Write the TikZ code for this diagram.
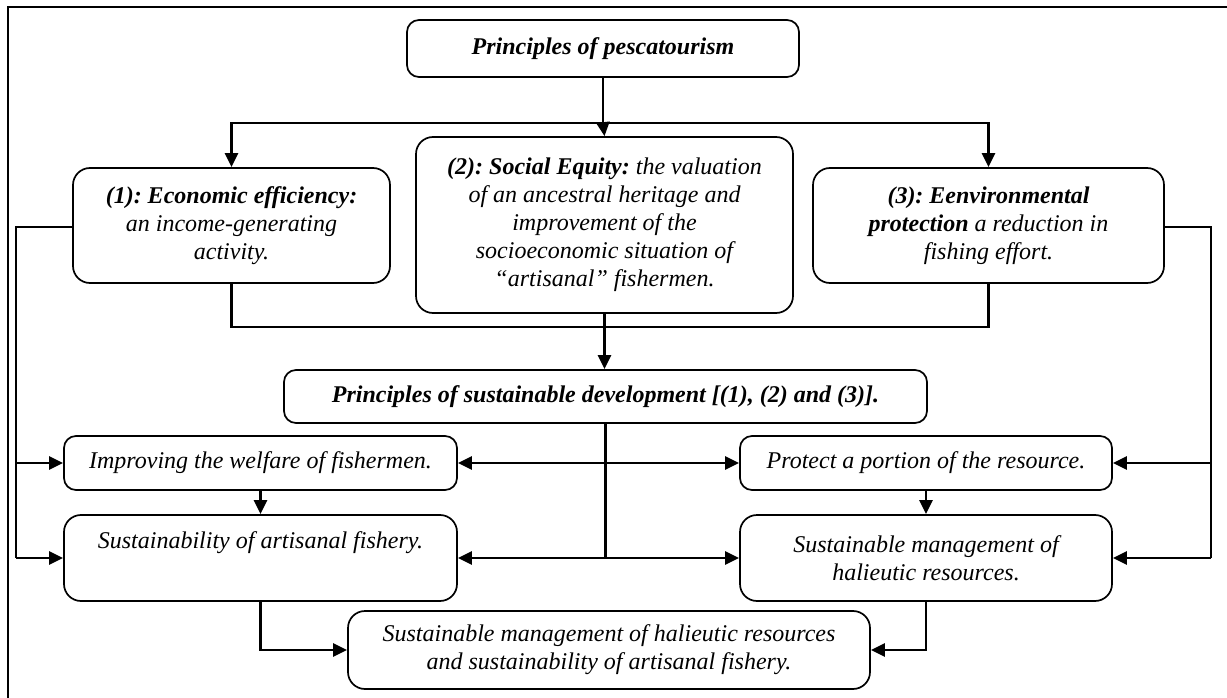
\documentclass[tikz,border=0pt]{standalone}
\usepackage{fontspec}
\setmainfont{Liberation Serif}
\usetikzlibrary{arrows.meta}
\frenchspacing

\tikzset{
  box/.style={draw, line width=1.7pt, rounded corners=12pt, align=center, inner sep=0pt,
    font=\fontsize{24}{28}\selectfont\itshape},
  bigbox/.style={box, rounded corners=17pt},
  link/.style={line width=2.6pt},
  conn/.style={link, -{Triangle[length=14pt,width=13pt]}}
}

\begin{document}
\begin{tikzpicture}[x=1pt,y=-1pt]
            \useasboundingbox (0,0) rectangle (1227,698);
            \draw[line width=1.3pt] (8,7) rectangle (1240,720);

            \node[box, minimum width=392pt, minimum height=57pt] (pesca) at (603,48.5) {\textbf{Principles of pescatourism}};
            \node[bigbox, minimum width=317pt, minimum height=115pt] (econ) at (231.5,225.5)
                {\textbf{(1): Economic efficiency:}\\ an income-generating\\ activity.};
            \node[bigbox, minimum width=377pt, minimum height=176pt] (social) at (604.5,225)
                {\textbf{(2): Social Equity:} the valuation\\ of an ancestral heritage and\\ improvement of the\\ socioeconomic situation of\\ ``artisanal'' fishermen.};
            \node[bigbox, minimum width=351pt, minimum height=115pt] (envir) at (988.5,225.5)
                {\textbf{(3): Eenvironmental}\\ \textbf{protection} a reduction in\\ fishing effort.};
            \node[box, minimum width=643pt, minimum height=53pt] (sustdev) at (605.5,396.5)
                {\textbf{Principles of sustainable development [(1), (2) and (3)].}};
            \node[box, minimum width=393pt, minimum height=54pt] (welfare) at (260.5,463) {Improving the welfare of fishermen.};
            \node[box, minimum width=372pt, minimum height=54pt] (protect) at (926,463) {Protect a portion of the resource.};
            \node[bigbox, minimum width=393pt, minimum height=86pt] (fishery) at (260.5,558) {Sustainability of artisanal fishery.\\ \strut};
            \node[bigbox, minimum width=372pt, minimum height=86pt] (manage) at (926,558) {Sustainable management of\\ halieutic resources.};
            \node[bigbox, minimum width=522pt, minimum height=78pt] (both) at (609,650)
                {Sustainable management of halieutic resources\\ and sustainability of artisanal fishery.};

            % top part
            \coordinate (split) at (pesca.south |- 0,123);
            \draw[link] (pesca.south) -- (split);
            \draw[conn] (split) -- (social.north);
            \draw[conn] (split) -| (econ.north);
            \draw[conn] (split) -| (envir.north);
            \draw[link] (econ.south) |- (envir.south |- 0,327) -- (envir.south);
            \draw[conn] (social.south) -- (social.south |- sustdev.north);

            % side feeders
            \coordinate (lfeed) at (16,227);
            \coordinate (rfeed) at (1211,227);
            \draw[link] (econ.west |- lfeed) -- (lfeed) -- (lfeed |- fishery.west);
            \draw[conn] (lfeed |- welfare.west) -- (welfare.west);
            \draw[conn] (lfeed |- fishery.west) -- (fishery.west);
            \draw[link] (envir.east |- rfeed) -- (rfeed) -- (rfeed |- manage.east);
            \draw[conn] (rfeed |- protect.east) -- (protect.east);
            \draw[conn] (rfeed |- manage.east) -- (manage.east);

            % middle hub
            \coordinate (hub) at (sustdev.south |- fishery.east);
            \draw[link] (sustdev.south) -- (hub);
            \draw[conn] (sustdev.south |- welfare.east) -- (welfare.east);
            \draw[conn] (sustdev.south |- protect.west) -- (protect.west);
            \draw[conn] (hub) -- (fishery.east);
            \draw[conn] (hub) -- (manage.west);
            \draw[conn] (welfare) -- (fishery);
            \draw[conn] (protect) -- (manage);

            % bottom
            \draw[conn] (fishery.south) |- (both.west);
            \draw[conn] (manage.south) |- (both.east);
        \end{tikzpicture}
\end{document}
